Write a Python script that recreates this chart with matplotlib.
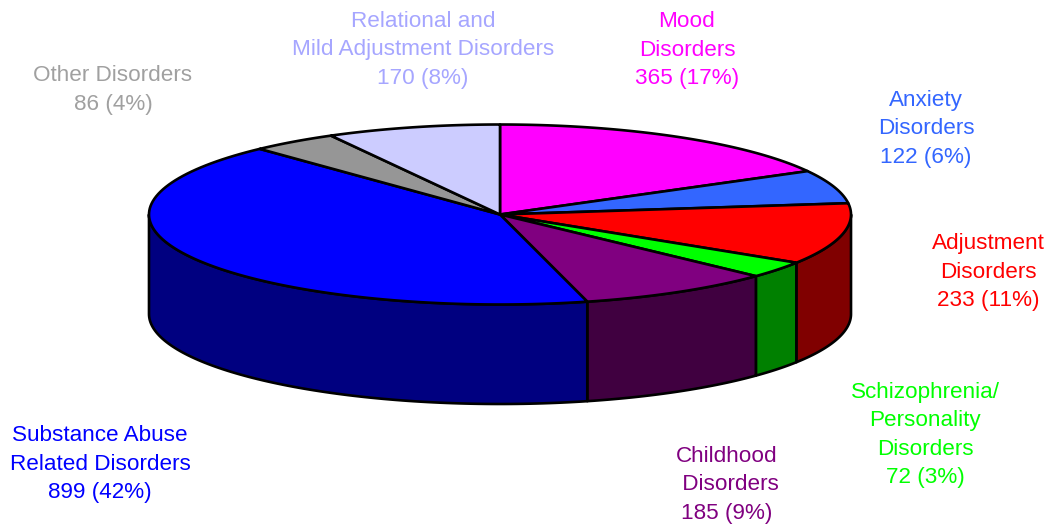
import numpy as np
import matplotlib
matplotlib.use("Agg")
import matplotlib.pyplot as plt
from matplotlib.patches import Polygon

plt.rcParams['font.family'] = ['Liberation Sans', 'DejaVu Sans']

# clockwise from 12 o'clock
categories = ["Mood\nDisorders", "Anxiety\nDisorders", "Adjustment\nDisorders",
              "Schizophrenia/\nPersonality\nDisorders", "Childhood\n Disorders",
              "Substance Abuse\nRelated Disorders", "Other Disorders",
              "Relational and\nMild Adjustment Disorders"]
values = [365, 122, 233, 72, 185, 899, 86, 170]
percents = [17, 6, 11, 3, 9, 42, 4, 8]
top_colors = ["#ff00ff", "#3366ff", "#ff0000", "#00ff00", "#800080", "#0000ff", "#969696", "#ccccff"]
side_colors = ["#800080", "#1a3380", "#800000", "#008000", "#400040", "#000080", "#4b4b4b", "#666680"]
label_colors = ["#ff00ff", "#3366ff", "#ff0000", "#00ff00", "#800080", "#0000ff", "#a0a0a0", "#a6a6ff"]
label_pos = [(687, 50), (926, 129), (988, 272), (925, 435), (727, 485), (100, 464), (113, 90), (423, 50)]

cx, cy = 500, 214.5
rx, ry = 351, 90
depth = 99.5

fig = plt.figure(figsize=(10.48, 5.24), dpi=100)
ax = fig.add_axes([0, 0, 1, 1])
ax.set_xlim(0, 1048)
ax.set_ylim(524, 0)
ax.axis('off')


def rim(a0, a1, n=100):
    # a is degrees clockwise from top
    t = np.radians(np.linspace(a0, a1, n))
    return cx + rx * np.sin(t), cy - ry * np.cos(t)


# the slices follow the rounded percents, not the raw counts
edges = np.concatenate([[0], np.cumsum(percents)]) / sum(percents) * 360

# side wall, only the front half (90..270 deg) shows
for i in range(len(values)):
    a0, a1 = max(edges[i], 90), min(edges[i + 1], 270)
    if a1 <= a0:
        continue
    x, y = rim(a0, a1)
    pts = np.r_[np.c_[x, y], np.c_[x[::-1], y[::-1] + depth]]
    ax.add_patch(Polygon(pts, closed=True, fc=side_colors[i], ec='black', lw=1.9, joinstyle='round'))

# top face
for i in range(len(values)):
    x, y = rim(edges[i], edges[i + 1])
    pts = np.r_[[[cx, cy]], np.c_[x, y]]
    ax.add_patch(Polygon(pts, closed=True, fc=top_colors[i], ec='black', lw=1.9, joinstyle='round'))

for i, name in enumerate(categories):
    txt = f"{name}\n{values[i]} ({percents[i]}%)"
    ax.text(label_pos[i][0], label_pos[i][1], txt, color=label_colors[i], fontsize=16.2,
            ha='center', va='center', linespacing=1.47)

fig.savefig("out.png", dpi=100, facecolor='white')
